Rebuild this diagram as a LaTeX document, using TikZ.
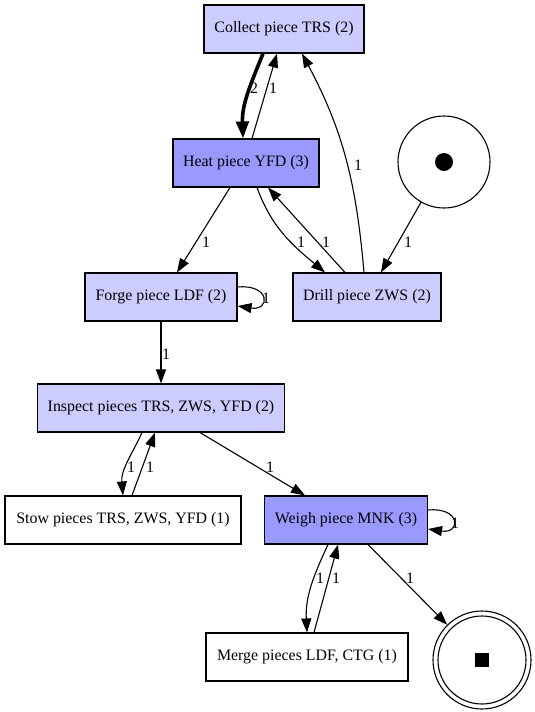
\documentclass[tikz,border=0pt]{standalone}
\usepackage{fontspec}
\setmainfont{Liberation Serif}
\usetikzlibrary{arrows.meta}
\definecolor{lightfill}{HTML}{CCCCFF}
\definecolor{darkfill}{HTML}{9999FF}
\begin{document}
\begin{tikzpicture}[x=1pt,y=-1pt,
  every node/.style={font=\rmfamily\fontsize{15.9}{19}\selectfont},
  trans/.style={draw=black, line width=1.1pt, rectangle, minimum height=48pt, inner sep=0pt},
  light/.style={trans, fill=lightfill},
  dark/.style={trans, fill=darkfill},
  plain/.style={trans, fill=white},
  place/.style={draw=black, line width=1.1pt, circle, inner sep=0pt},
  arc/.style={line width=1.1pt, -{Triangle[length=14pt,width=10pt]}},
  thickarc/.style={line width=3.6pt, -{Triangle[length=17pt,width=12.5pt]}},
  lbl/.style={inner sep=0pt}
]
\useasboundingbox (0,0) rectangle (535,712);
\node[light, minimum width=160pt] (collect) at (284,29) {Collect piece TRS (2)};
\node[dark, minimum width=146pt] (heat) at (246,163) {Heat piece YFD (3)};
\node[light, minimum width=152pt] (forge) at (161,297) {Forge piece LDF (2)};
\node[light, minimum width=148pt] (drill) at (367,297) {Drill piece ZWS (2)};
\node[place, minimum size=92pt] (start) at (444,162) {};
\fill (start.center) circle (9pt);
\node[light, minimum width=247pt] (inspect) at (161,408) {Inspect pieces TRS, ZWS, YFD (2)};
\node[plain, minimum width=236pt] (stow) at (123,520) {Stow pieces TRS, ZWS, YFD (1)};
\node[dark, minimum width=163pt] (weigh) at (346,520) {Weigh piece MNK (3)};
\node[plain, minimum width=202pt] (merge) at (307,657) {Merge pieces LDF, CTG (1)};
\node[place, minimum size=98pt] (end) at (482,660) {};
\draw[line width=1.1pt] (end.center) circle (44pt);
\fill ([xshift=-7pt,yshift=-7pt]end.center) rectangle ([xshift=7pt,yshift=7pt]end.center);

% edges
\draw[thickarc] ([xshift=-21pt]collect.south) to[out=-112,in=92] ([xshift=-3pt]heat.north);
\node[lbl] (l1) at (254,88) {2};
\draw[arc] ([xshift=6pt]heat.north) -- ([xshift=-7pt]collect.south);
\node[lbl] (l2) at (273,88) {1};
\draw[arc] ([xshift=-3pt]drill.north) to[out=95,in=-62] ([xshift=18pt]collect.south);
\node[lbl] (l3) at (358,165) {1};
\draw[arc] ([xshift=-16pt]heat.south) -- ([xshift=16pt]forge.north);
\node[lbl] (l4) at (206,242) {1};
\draw[arc] ([xshift=11pt]heat.south) to[out=-70,in=140] ([xshift=-42pt]drill.north);
\node[lbl] (l5) at (301,242) {1};
\draw[arc] ([xshift=-22pt]drill.north) -- ([xshift=22pt]heat.south);
\node[lbl] (l6) at (326,242) {1};
\draw[arc] ([yshift=10pt]forge.east) .. controls +(33,-3) and +(33,5) .. ([yshift=-9pt]forge.east);
\node[lbl] (l7) at (266,298) {1};
\draw[arc] (start) -- ([xshift=14pt]drill.north);
\node[lbl] (l8) at (408,242) {1};
\draw[arc] (forge) -- (inspect);
\node[lbl] (l9) at (166,354) {1};
\draw[arc] ([xshift=-19pt]inspect.south) to[out=-115,in=95] (stow.north);
\node[lbl] (l10) at (131,467) {1};
\draw[arc] ([xshift=9pt]stow.north) -- ([xshift=-6pt]inspect.south);
\node[lbl] (l11) at (150,467) {1};
\draw[arc] ([xshift=39pt]inspect.south) -- ([xshift=-41pt]weigh.north);
\node[lbl] (l12) at (270,467) {1};
\draw[arc] ([yshift=10pt]weigh.east) .. controls +(33,-3) and +(33,5) .. ([yshift=-9pt]weigh.east);
\node[lbl] (l13) at (455,523) {1};
\draw[arc] ([xshift=-18pt]weigh.south) to[out=-115,in=93] (merge.north);
\node[lbl] (l14) at (320,578) {1};
\draw[arc] ([xshift=7pt]merge.north) -- ([xshift=-8pt]weigh.south);
\node[lbl] (l15) at (336,578) {1};
\draw[arc] ([xshift=22pt]weigh.south) -- (end);
\node[lbl] (l16) at (410,578) {1};
\end{tikzpicture}
\end{document}
